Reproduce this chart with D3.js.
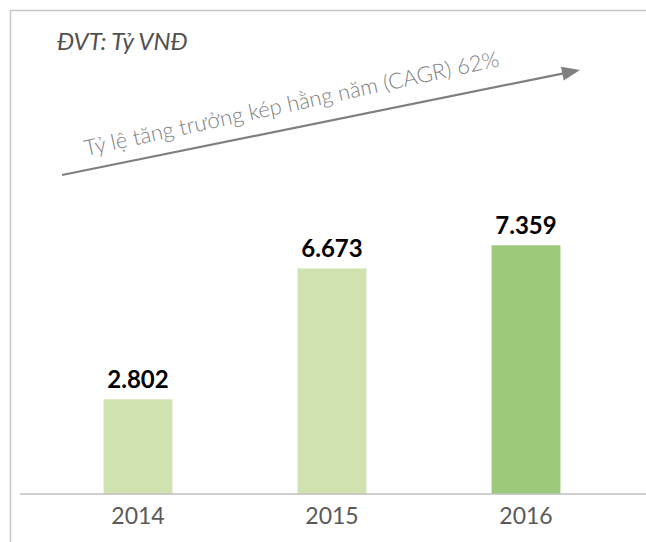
<!DOCTYPE html>
<html><head><meta charset="utf-8">
<script src="https://cdn.jsdelivr.net/npm/d3@7"></script>
<style>body{margin:0;background:#fff}svg{display:block}</style>
</head><body>
<script>
const years = ["2014", "2015", "2016"];
const revenue = [2802, 6673, 7359];
const barColors = ["#cfe2b0", "#cfe2b0", "#9dc97c"];
const unitLabel = "ĐVT: Tỷ VNĐ";
const cagrLabel = "Tỷ lệ tăng trưởng kép hằng năm (CAGR) 62%";

const W = 646, H = 542;
const svg = d3.select("body").append("svg").attr("width", W).attr("height", H);
const font = "Lato,'Open Sans',sans-serif";

// frame
svg.append("path").attr("d", `M10.5,${H} V10.5 H${W}`).attr("fill","none").attr("stroke","#c8c8c8").attr("stroke-width",1.5);

const x = d3.scaleBand().domain(years).range([41, 623]).paddingInner(0.645).paddingOuter(0.3225);
const y = d3.scaleLinear().domain([0, 10000]).range([494, 494 - 338]);

const loc = d3.formatLocale({decimal: ",", thousands: ".", grouping: [3], currency: ["", ""]});
const fmt = loc.format(",");

svg.selectAll("rect.bar").data(revenue).join("rect").attr("class","bar")
  .attr("x", (d,i) => x(years[i])).attr("width", x.bandwidth())
  .attr("y", d => y(d)).attr("height", d => y(0) - y(d))
  .attr("fill", (d,i) => barColors[i]);

// axis
const ax = svg.append("g").attr("transform", "translate(0,494)")
  .call(d3.axisBottom(x).tickSize(0).tickPadding(14));
ax.select(".domain").attr("d", "M20,0H646").attr("stroke", "#bfbfbf").attr("stroke-width", 1.5);
ax.selectAll("text").attr("font-family", font).attr("font-size", 23).attr("fill", "#595959").attr("dy", "0.71em");

svg.selectAll("text.val").data(revenue).join("text").attr("class","val")
  .attr("x", (d,i) => x(years[i]) + x.bandwidth()/2).attr("y", d => y(d) - 11)
  .attr("text-anchor","middle").attr("font-family", font).attr("font-weight","bold")
  .attr("font-size", 24).attr("fill","#000").text(d => fmt(d));

svg.append("text").attr("x", 57).attr("y", 50).attr("font-family", font).attr("font-style","italic")
  .attr("font-size", 24).attr("fill", "#505050").text(unitLabel);

// CAGR arrow
const x0 = 62, y0 = 175, x1 = 580, y1 = 70;
const ang = Math.atan2(y1 - y0, x1 - x0);
svg.append("line").attr("x1",x0).attr("y1",y0).attr("x2",x1-4).attr("y2",y1+0.8)
  .attr("stroke","#7f7f7f").attr("stroke-width",2.2);
svg.append("path").attr("transform",`translate(${x1},${y1}) rotate(${ang*180/Math.PI})`)
  .attr("d","M0,0L-18,-7L-18,7Z").attr("fill","#7f7f7f");
svg.append("text").attr("transform", `translate(86,156) rotate(${ang*180/Math.PI - 0.8})`)
  .attr("font-family", font).attr("font-weight", 300).attr("font-size", 22).attr("fill","#7f7f7f")
  .text(cagrLabel);
</script>
</body></html>
